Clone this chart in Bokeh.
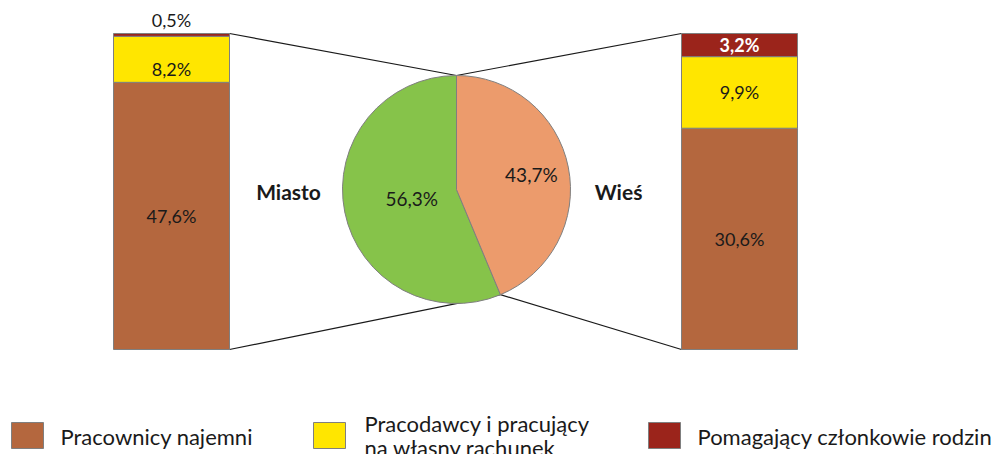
import math
from bokeh.plotting import figure
from bokeh.models import Range1d
from bokeh.core.properties import value
from bokeh.embed import file_html
from bokeh.resources import INLINE

# ---------------- data ----------------
groups = ["Miasto", "Wieś"]
group_share = [56.3, 43.7]          # pie
series = ["Pracownicy najemni", "Pracodawcy i pracujący\nna własny rachunek",
          "Pomagający członkowie rodzin"]
miasto_vals = [47.6, 8.2, 0.5]
wies_vals = [30.6, 9.9, 3.2]
series_colors = ["#B4673E", "#FFE600", "#9B241B"]
pie_colors = ["#86C34A", "#EC9B6C"]

W, H = 994, 454
FONT = "Lato"
EDGE = "#7F7F7F"

def sy(y):  # screen y -> data y
    return H - y

def sx(x):
    return x

p = figure(width=W, height=H, x_range=Range1d(0, W), y_range=Range1d(0, H),
           output_backend="svg", toolbar_location=None, min_border=0)
p.axis.visible = False
p.grid.visible = False
p.outline_line_color = None
p.background_fill_color = "white"

# pie geometry
cx, cy, R = sx(456), sy(189), 114
a_split = math.radians(90 - 360 * group_share[1] / 100.0)   # orange slice clockwise from top
top_pt = (cx, cy + R)
split_pt = (cx + R * math.cos(a_split), cy + R * math.sin(a_split))

# bars geometry
bar_bottom, bar_top = sy(349), sy(33)
bar_h = bar_top - bar_bottom
bars = [(sx(113), sx(229), miasto_vals, group_share[0]),
        (sx(681), sx(797), wies_vals, group_share[1])]

# connector lines (behind pie)
lb, rb = bars[0], bars[1]
p.segment(x0=[lb[1], lb[1], rb[0], rb[0]],
          y0=[bar_top, bar_bottom, bar_top, bar_bottom],
          x1=[top_pt[0], split_pt[0], top_pt[0], split_pt[0]],
          y1=[top_pt[1], split_pt[1], top_pt[1], split_pt[1]],
          line_color="#1A1A1A", line_width=1.2)

# stacked bars
for bi, (x0, x1, vals, tot) in enumerate(bars):
    b = bar_bottom
    for si, v in enumerate(vals):
        h = bar_h * v / tot
        p.quad(left=[x0], right=[x1], bottom=[b], top=[b + h],
               fill_color=series_colors[si], line_color=EDGE, line_width=1)
        lab = f"{v:.1f}".replace(".", ",") + "%"
        xc = (x0 + x1) / 2
        yc = b + h / 2
        bold = False
        color = "#1A1A1A"
        if h < 8:           # too thin: label above the bar
            yc = b + h + 14
        elif si == 2:       # dark segment: white bold
            bold = True
            color = "white"
        elif bi == 0 and si == 1:
            yc -= 10
        p.text(x=[xc], y=[yc], text=[lab], text_font=value(FONT),
               text_font_size="18px", text_align="center", text_baseline="middle",
               text_color=color, text_font_style="bold" if bold else "normal")
        b += h

# pie
start = math.pi / 2
angs = []
for i, v in enumerate(group_share):
    sweep = 2 * math.pi * v / 100.0
    angs.append((start, start + sweep))
    start += sweep
p.wedge(x=[cx], y=[cy], radius=R, start_angle=angs[0][0], end_angle=angs[0][1],
        direction="anticlock", fill_color=pie_colors[0], line_color=EDGE, line_width=1)
p.wedge(x=[cx], y=[cy], radius=R, start_angle=angs[1][0], end_angle=angs[1][1],
        direction="anticlock", fill_color=pie_colors[1], line_color=EDGE, line_width=1)

label_frac = [0.40, 0.67]
for i, v in enumerate(group_share):
    mid = (angs[i][0] + angs[i][1]) / 2
    lx = cx + label_frac[i] * R * math.cos(mid)
    ly = cy + label_frac[i] * R * math.sin(mid)
    p.text(x=[lx], y=[ly], text=[f"{v:.1f}".replace(".", ",") + "%"],
           text_font=value(FONT), text_font_size="19px", text_align="center",
           text_baseline="middle", text_color="#1A1A1A")

# group names
p.text(x=[sx(288), sx(618)], y=[sy(191), sy(191)], text=groups,
       text_font=value(FONT), text_font_size="21px", text_font_style="bold",
       text_align="center", text_baseline="middle", text_color="#1A1A1A")

# legend
leg_x = [sx(11), sx(313), sx(648)]
sq_w, sq_h = 32, 26
for i, name in enumerate(series):
    p.quad(left=[leg_x[i]], right=[leg_x[i] + sq_w], bottom=[sy(448)], top=[sy(448) + sq_h],
           fill_color=series_colors[i], line_color=EDGE, line_width=1)
    lines = name.split("\n")
    if len(lines) == 1:
        p.text(x=[leg_x[i] + sq_w + 17], y=[sy(436)], text=[name],
               text_font=value(FONT), text_font_size="22px", text_align="left",
               text_baseline="middle", text_color="#1A1A1A")
    else:
        for k, ln in enumerate(lines):
            p.text(x=[leg_x[i] + sq_w + 19], y=[sy(423) - 24 * k], text=[ln],
                   text_font=value(FONT), text_font_size="22px", text_align="left",
                   text_baseline="middle", text_color="#1A1A1A")

open("out.html", "w").write(file_html(p, INLINE))
